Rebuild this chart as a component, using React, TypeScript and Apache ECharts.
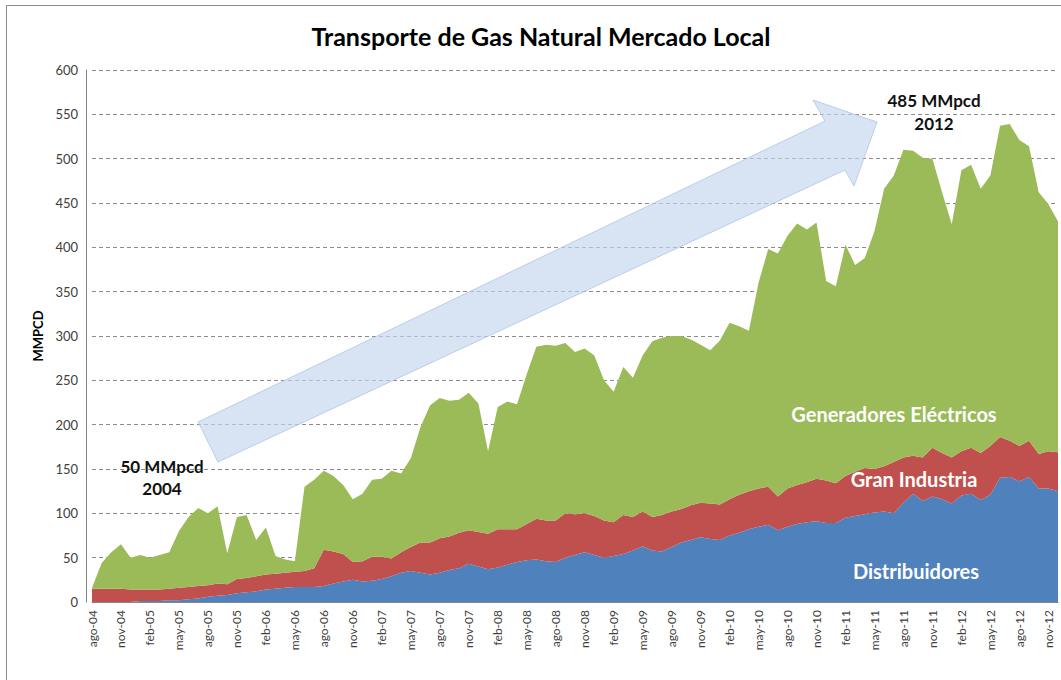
import React, { useEffect, useRef } from "react";
import * as echarts from "echarts";

const MONTHS = ["ene", "feb", "mar", "abr", "may", "jun", "jul", "ago", "sep", "oct", "nov", "dic"];

// Categories: ago-04 ... dic-12 (monthly)
const categories: string[] = [];
for (let y = 2004; y <= 2012; y++) {
  for (let m = 0; m < 12; m++) {
    if (y === 2004 && m < 7) continue;
    categories.push(`${MONTHS[m]}-${String(y % 100).padStart(2, "0")}`);
  }
}

const TITLE = "Transporte de Gas Natural Mercado Local";
const Y_NAME = "MMPCD";
const Y_MIN = 0;
const Y_MAX = 600;
const Y_STEP = 50;

const distribuidores = [
  0, 0, 0, 0, 0, 1, 1, 1, 2, 2, 3, 4, 6, 7, 8, 10, 11, 12, 14, 15,
  16, 17, 17, 17, 18, 21, 23, 25, 23, 24, 26, 29, 33, 35, 33, 31, 33, 36, 38, 43,
  40, 37, 39, 42, 45, 47, 48, 46, 45, 50, 53, 56, 53, 50, 52, 54, 58, 63, 58, 57,
  62, 67, 70, 73, 71, 70, 75, 78, 82, 85, 87, 81, 85, 88, 90, 91, 89, 89, 95, 97,
  99, 101, 102, 100, 112, 122, 114, 119, 116, 111, 120, 122, 115, 121, 140, 141, 136, 141, 128, 128,
  125,
];

const granIndustria = [
  15, 15, 15, 15, 14, 13, 13, 13, 13, 14, 14, 14, 13, 14, 12, 16, 16, 17, 17, 17,
  17, 17, 18, 21, 41, 36, 31, 20, 23, 27, 25, 20, 23, 27, 34, 36, 39, 38, 40, 38,
  39, 40, 43, 40, 37, 41, 46, 46, 47, 50, 46, 44, 44, 42, 38, 44, 38, 39, 38, 41,
  40, 38, 39, 39, 40, 40, 41, 43, 43, 43, 43, 38, 43, 44, 45, 48, 48, 45, 47, 50,
  52, 49, 51, 58, 51, 43, 49, 55, 52, 52, 50, 52, 53, 55, 46, 41, 40, 41, 39, 42,
  44,
];

const generadores = [
  1, 29, 41, 50, 36, 39, 36, 39, 41, 64, 79, 88, 81, 87, 35, 70, 71, 41, 53, 20,
  15, 12, 95, 100, 89, 85, 78, 71, 76, 87, 88, 99, 89, 100, 130, 155, 158, 153, 150, 155,
  145, 93, 138, 144, 141, 169, 194, 198, 197, 192, 183, 186, 181, 158, 147, 167, 157, 176, 198, 200,
  198, 195, 187, 178, 173, 185, 199, 190, 181, 232, 268, 274, 285, 295, 285, 289, 225, 222, 261, 233,
  237, 268, 313, 323, 347, 344, 338, 326, 294, 263, 317, 319, 298, 305, 351, 357, 345, 332, 295, 279,
  260,
];

const SERIES_NAMES = ["Distribuidores", "Gran Industria", "Generadores Eléctricos"];
const SERIES_COLORS = ["#4F81BD", "#C0504D", "#9BBB59"];

const FONT = "Lato, 'Noto Sans', sans-serif";

export default function App() {
  const ref = useRef<HTMLDivElement>(null);

  useEffect(() => {
    if (!ref.current) return;
    const chart = echarts.init(ref.current, undefined, { renderer: "svg" });
    const values = [distribuidores, granIndustria, generadores];

    const option: any = {
      animation: false,
      backgroundColor: "#ffffff",
      textStyle: { fontFamily: FONT },
      grid: { left: 92, right: 3, top: 70, bottom: 78, containLabel: false },
      xAxis: {
        type: "category",
        data: categories,
        boundaryGap: false,
        axisLine: { show: true, lineStyle: { color: "#868686", width: 1 } },
        axisTick: { show: false },
        axisLabel: {
          interval: 2,
          rotate: 90,
          fontSize: 12,
          color: "#404040",
          fontFamily: FONT,
          margin: 8,
        },
        splitLine: { show: false },
      },
      yAxis: {
        type: "value",
        min: Y_MIN,
        max: Y_MAX,
        interval: Y_STEP,
        offset: 6,
        name: Y_NAME,
        nameLocation: "middle",
        nameGap: 40,
        nameTextStyle: { fontWeight: "bold", fontSize: 13, color: "#000", fontFamily: FONT },
        axisLine: { show: true, lineStyle: { color: "#868686", width: 1 } },
        axisTick: { show: false },
        axisLabel: { fontSize: 13, color: "#404040", margin: 8, fontFamily: FONT },
        splitLine: { show: true, lineStyle: { type: [4, 3], color: "#8c8c8c", width: 1 } },
      },
      series: SERIES_NAMES.map((name, k) => ({
        name,
        type: "line",
        stack: "total",
        data: values[k],
        showSymbol: false,
        symbol: "none",
        lineStyle: { width: 0 },
        areaStyle: { color: SERIES_COLORS[k], opacity: 1 },
        itemStyle: { color: SERIES_COLORS[k] },
        z: 2,
      })),
      graphic: [
        {
          type: "rect",
          shape: { x: 6.5, y: 5.5, width: 1060, height: 680 },
          style: { fill: "none", stroke: "#8c8c8c", lineWidth: 1 },
          silent: true,
        },
        {
          type: "polygon",
          shape: {
            points: [
              [198, 422],
              [825, 121],
              [813, 100],
              [877, 122],
              [854, 186],
              [845, 170],
              [218, 462],
            ],
          },
          style: { fill: "rgba(195,214,238,0.65)", stroke: "rgba(175,198,228,0.8)", lineWidth: 1 },
          z: 10,
          silent: true,
        },
        {
          type: "text",
          x: 541,
          y: 36,
          style: { text: TITLE, fill: "#000", font: `bold 25px ${FONT}`, align: "center", verticalAlign: "middle" },
          z: 20,
        },
        {
          type: "text",
          x: 162,
          y: 466,
          style: { text: "50 MMpcd", fill: "#111", font: `bold 17px ${FONT}`, align: "center", verticalAlign: "middle" },
          z: 20,
        },
        {
          type: "text",
          x: 162,
          y: 488,
          style: { text: "2004", fill: "#111", font: `bold 17px ${FONT}`, align: "center", verticalAlign: "middle" },
          z: 20,
        },
        {
          type: "text",
          x: 934,
          y: 100,
          style: { text: "485 MMpcd", fill: "#111", font: `bold 17px ${FONT}`, align: "center", verticalAlign: "middle" },
          z: 20,
        },
        {
          type: "text",
          x: 934,
          y: 123,
          style: { text: "2012", fill: "#111", font: `bold 17px ${FONT}`, align: "center", verticalAlign: "middle" },
          z: 20,
        },
        {
          type: "text",
          x: 894,
          y: 414,
          style: { text: "Generadores Eléctricos", fill: "#fff", font: `bold 20px ${FONT}`, align: "center", verticalAlign: "middle" },
          z: 20,
        },
        {
          type: "text",
          x: 914,
          y: 479,
          style: { text: "Gran Industria", fill: "#fff", font: `bold 20px ${FONT}`, align: "center", verticalAlign: "middle" },
          z: 20,
        },
        {
          type: "text",
          x: 916,
          y: 571,
          style: { text: "Distribuidores", fill: "#fff", font: `bold 20px ${FONT}`, align: "center", verticalAlign: "middle" },
          z: 20,
        },
      ],
    };

    chart.setOption(option);
    return () => chart.dispose();
  }, []);

  return (
    <div
      ref={ref}
      style={{ position: "fixed", left: 0, top: 0, width: 1061, height: 680, background: "#fff" }}
    />
  );
}
